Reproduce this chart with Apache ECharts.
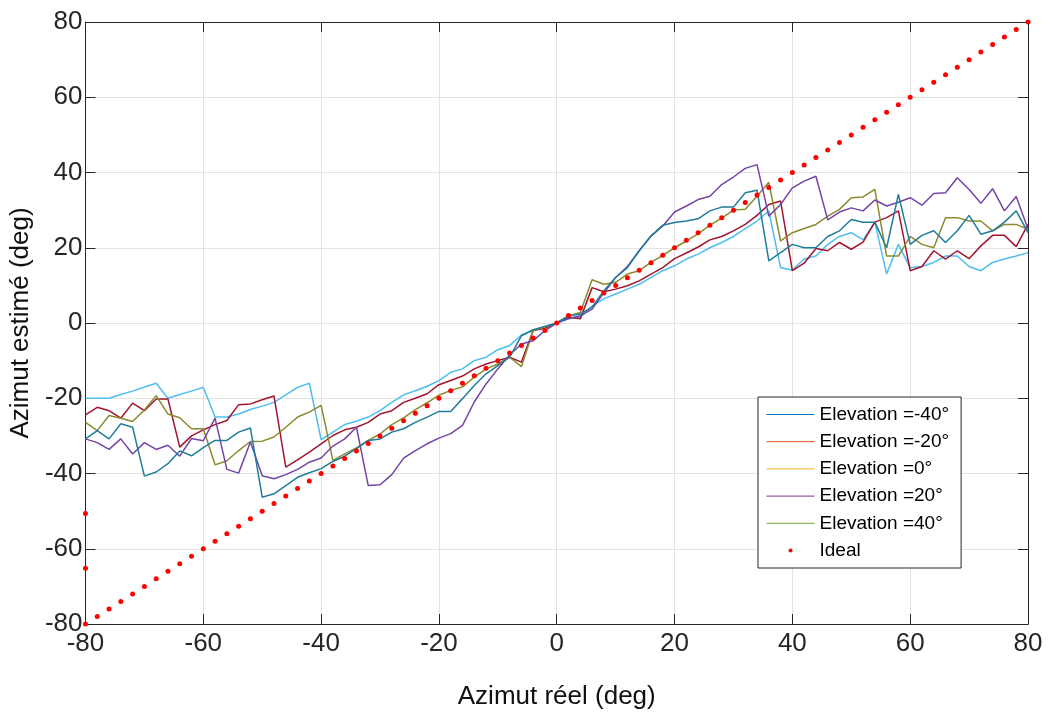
<!DOCTYPE html>
<html>
<head>
<meta charset="utf-8">
<script src="https://cdn.jsdelivr.net/npm/echarts@6/dist/echarts.min.js"></script>
<style>
  html, body { margin: 0; padding: 0; background: #fff; }
  #main { width: 1051px; height: 715px; }
</style>
</head>
<body>
<div id="main"></div>
<script>
// azimut réel (deg), un point tous les 2°
var azimut = [-80, -78, -76, -74, -72, -70, -68, -66, -64, -62, -60, -58, -56, -54, -52, -50, -48, -46, -44, -42,
  -40, -38, -36, -34, -32, -30, -28, -26, -24, -22, -20, -18, -16, -14, -12, -10, -8, -6, -4, -2,
  0, 2, 4, 6, 8, 10, 12, 14, 16, 18, 20, 22, 24, 26, 28, 30, 32, 34, 36, 38,
  40, 42, 44, 46, 48, 50, 52, 54, 56, 58, 60, 62, 64, 66, 68, 70, 72, 74, 76, 78, 80];

// azimut estimé pour chaque élévation
var elevM40 = [-20, -20, -20, -19.0, -18.1, -17.0, -16.0, -20, -19.0, -18.1, -17.1, -25.0, -25.0, -24.2, -23.0, -22.1, -21.1, -19.1, -17.1, -16.0,
  -31.0, -29.0, -27.0, -26.1, -25.0, -23.3, -21.1, -19.1, -18.0, -16.8, -15.3, -13.1, -12.2, -10.0, -9.1, -7.1, -6.0, -3.2, -2.0, -0.9,
  0, 1.1, 1.5, 4.5, 6.4, 7.7, 9.0, 10.3, 12.1, 13.9, 15.2, 17.0, 18.3, 20.0, 21.4, 23.0, 25.1, 27.1, 29.8, 14.7,
  14.1, 17.0, 17.8, 20.9, 23.0, 24.0, 22.1, 26.8, 13.0, 20.9, 14.7, 15.0, 16.1, 17.8, 17.8, 15.0, 13.9, 16.1, 17.0, 17.8, 18.7];

var elevM20 = [-24.4, -22.4, -23.3, -25.3, -21.3, -23.3, -20.2, -20.2, -33.0, -30.0, -28.4, -27.0, -25.9, -21.7, -21.5, -20.4, -19.4, -38.3, -36.4, -34.3,
  -32.1, -29.9, -28.4, -27.7, -26.4, -24.2, -23.3, -21.1, -20.0, -18.8, -16.4, -15.3, -14.1, -12.2, -10.9, -10.0, -9.1, -10.4, -2.0, -1.4,
  0, 1.5, 1.1, 9.4, 8.3, 9.0, 9.9, 11.2, 13.0, 14.7, 17.1, 18.6, 20.2, 22.1, 23.0, 24.5, 26.2, 28.6, 31.5, 32.4,
  13.9, 15.9, 19.8, 19.2, 21.4, 19.6, 21.5, 26.8, 28.0, 29.8, 13.9, 15.0, 19.2, 17.0, 19.2, 17.1, 20.5, 23.3, 23.3, 20.3, 26.2];

var elev0 = [-26.4, -28.6, -24.6, -25.3, -26.2, -23.1, -19.3, -24.2, -25.2, -28.1, -28.1, -37.7, -36.6, -33.9, -31.5, -31.4, -30.3, -27.7, -25.0, -23.7,
  -21.9, -36.5, -34.8, -33.2, -31.2, -29.5, -27.0, -25.2, -23.0, -21.2, -19.2, -17.9, -17.0, -14.4, -12.2, -10.9, -9.1, -11.6, -2.0, -1.1,
  0, 1.9, 2.8, 11.5, 10.3, 10.8, 13.0, 13.9, 16.1, 18.0, 20.0, 21.8, 23.7, 26.0, 27.9, 30.0, 30.2, 33.7, 37.4, 21.8,
  24.0, 25.1, 26.2, 28.4, 30.2, 33.3, 33.5, 35.5, 17.8, 17.8, 23.0, 20.9, 20.0, 28.0, 28.0, 27.1, 27.1, 24.5, 26.2, 26.2, 24.9];

var elev20 = [-30.8, -31.8, -33.6, -30.8, -34.8, -31.8, -33.6, -32.5, -35.4, -30.7, -31.3, -25.3, -38.9, -39.9, -31.6, -40.6, -41.4, -40.3, -38.9, -37.0,
  -35.9, -32.7, -30.8, -27.7, -43.2, -43.0, -40.3, -35.9, -33.9, -32.1, -30.6, -29.4, -27.2, -21.0, -16.2, -12.2, -8.5, -5.6, -4.7, -2.0,
  0, 1.2, 1.9, 3.7, 8.0, 12.1, 15.0, 19.2, 23.1, 25.8, 29.5, 31.1, 32.8, 33.7, 36.8, 38.8, 41.1, 42.1, 28.4, 31.5,
  35.9, 37.7, 39.0, 27.4, 29.5, 30.6, 29.8, 32.7, 31.1, 32.1, 33.3, 31.3, 34.4, 34.6, 38.6, 35.5, 31.8, 35.7, 29.8, 33.6, 25.0];

var elev40 = [-30.8, -28.6, -30.8, -26.8, -27.7, -40.7, -39.6, -37.4, -34.0, -35.3, -33.1, -31.2, -31.2, -29.0, -27.9, -46.3, -45.4, -43.2, -41.0, -39.8,
  -38.7, -36.8, -35.4, -33.4, -31.2, -30.8, -29.0, -28.1, -26.4, -25.0, -23.5, -23.5, -20.1, -16.6, -13.5, -11.3, -9.1, -3.4, -1.8, -0.9,
  0, 1.9, 2.4, 4.2, 8.6, 12.1, 14.7, 19.2, 23.1, 26.0, 26.7, 27.1, 27.7, 29.8, 30.8, 30.8, 34.6, 35.3, 16.5, 18.7,
  20.9, 20.0, 20.0, 23.0, 24.5, 27.5, 26.8, 26.8, 20.0, 34.2, 20.9, 23.3, 24.5, 21.4, 24.5, 28.6, 23.6, 24.5, 26.8, 29.8, 24.0];

// points idéaux (plus deux points isolés sur le bord gauche)
var idealX = [-80, -80, -80, -78, -76, -74, -72, -70, -68, -66, -64, -62, -60, -58, -56, -54, -52, -50, -48, -46, -44, -42,
  -40, -38, -36, -34, -32, -30, -28, -26, -24, -22, -20, -18, -16, -14, -12, -10, -8, -6, -4, -2,
  0, 2, 4, 6, 8, 10, 12, 14, 16, 18, 20, 22, 24, 26, 28, 30, 32, 34, 36, 38,
  40, 42, 44, 46, 48, 50, 52, 54, 56, 58, 60, 62, 64, 66, 68, 70, 72, 74, 76, 78, 80];
var idealY = [-50.6, -65.2, -80, -78, -76, -74, -72, -70, -68, -66, -64, -62, -60, -58, -56, -54, -52, -50, -48, -46, -44, -42,
  -40, -38, -36, -34, -32, -30, -28, -26, -24, -22, -20, -18, -16, -14, -12, -10, -8, -6, -4, -2,
  0, 2, 4, 6, 8, 10, 12, 14, 16, 18, 20, 22, 24, 26, 28, 30, 32, 34, 36, 38,
  40, 42, 44, 46, 48, 50, 52, 54, 56, 58, 60, 62, 64, 66, 68, 70, 72, 74, 76, 78, 80];

var names = ["Elevation =-40°", "Elevation =-20°", "Elevation =0°", "Elevation =20°", "Elevation =40°"];
var lineColors = ["#4dbeee", "#a2142f", "#8c8a2e", "#7444a6", "#1f7d9b"];
var legendColors = ["#0072bd", "#d95319", "#edb120", "#7e2f8e", "#77ac30"];
var courbes = [elevM40, elevM20, elev0, elev20, elev40];

function pairs (xs, ys) {
  return xs.map(function (x, i) { return [x, ys[i]]; });
}

var myChart = echarts.init(document.getElementById("main"), null, { renderer: "canvas" });

var axisColor = "#262626";
var font = "'Liberation Sans', Arial, sans-serif";

var series = courbes.map(function (ys, i) {
  return {
    name: names[i],
    type: "line",
    symbol: "none",
    data: pairs(azimut, ys),
    lineStyle: { width: 1.5, color: lineColors[i] },
    itemStyle: { color: lineColors[i] },
    z: 2
  };
});
series.push({
  name: "Ideal",
  type: "scatter",
  symbolSize: 5,
  data: pairs(idealX, idealY),
  itemStyle: { color: "#ff0000", opacity: 1 },
  clip: false,
  z: 5
});

// légende : couleurs d'origine, sans marqueur sur les traits
var legendData = names.map(function (n, i) {
  return {
    name: n,
    lineStyle: { color: legendColors[i], width: 1 },
    itemStyle: { color: "rgba(0,0,0,0)", borderWidth: 0, opacity: 0 }
  };
});
legendData.push({ name: "Ideal", icon: "circle", itemStyle: { color: "#ff0000", opacity: 1 } });

function boxAxis (pos) {
  return {
    type: "value",
    position: pos,
    min: -80,
    max: 80,
    interval: 20,
    axisLine: { show: true, onZero: false, lineStyle: { color: axisColor, width: 1 } },
    axisTick: { show: true, inside: true, length: 10, lineStyle: { color: axisColor } },
    axisLabel: { show: false },
    splitLine: { show: false }
  };
}

myChart.setOption({
  animation: false,
  textStyle: { fontFamily: font },
  grid: { left: 85, right: 23, top: 22, bottom: 89, containLabel: false },
  legend: {
    orient: "vertical",
    left: 758,
    top: 397,
    width: 205,
    padding: [8, 12, 8, 8],
    itemWidth: 48,
    itemHeight: 4,
    itemGap: 8.2,
    backgroundColor: "#fff",
    borderColor: axisColor,
    borderWidth: 1,
    textStyle: { fontFamily: font, fontSize: 19, color: "#000", lineHeight: 19 },
    data: legendData
  },
  xAxis: [
    {
      type: "value",
      min: -80,
      max: 80,
      interval: 20,
      name: "Azimut réel (deg)",
      nameLocation: "middle",
      nameGap: 60,
      nameTextStyle: { fontFamily: font, fontSize: 26, color: "#111" },
      axisLine: { show: true, onZero: false, lineStyle: { color: axisColor, width: 1 } },
      axisTick: { show: true, inside: true, length: 10, lineStyle: { color: axisColor } },
      axisLabel: { margin: 7, fontFamily: font, fontSize: 26, color: axisColor },
      splitLine: { show: true, lineStyle: { color: "#e3e3e3", width: 1 } }
    },
    boxAxis("top")
  ],
  yAxis: [
    {
      type: "value",
      min: -80,
      max: 80,
      interval: 20,
      name: "Azimut estimé (deg)",
      nameLocation: "middle",
      nameGap: 40,
      nameTextStyle: { fontFamily: font, fontSize: 26, color: "#111" },
      axisLine: { show: true, onZero: false, lineStyle: { color: axisColor, width: 1 } },
      axisTick: { show: true, inside: true, length: 10, lineStyle: { color: axisColor } },
      axisLabel: { margin: 3, fontFamily: font, fontSize: 26, color: axisColor },
      splitLine: { show: true, lineStyle: { color: "#e3e3e3", width: 1 } }
    },
    boxAxis("right")
  ],
  series: series
});
</script>
</body>
</html>
